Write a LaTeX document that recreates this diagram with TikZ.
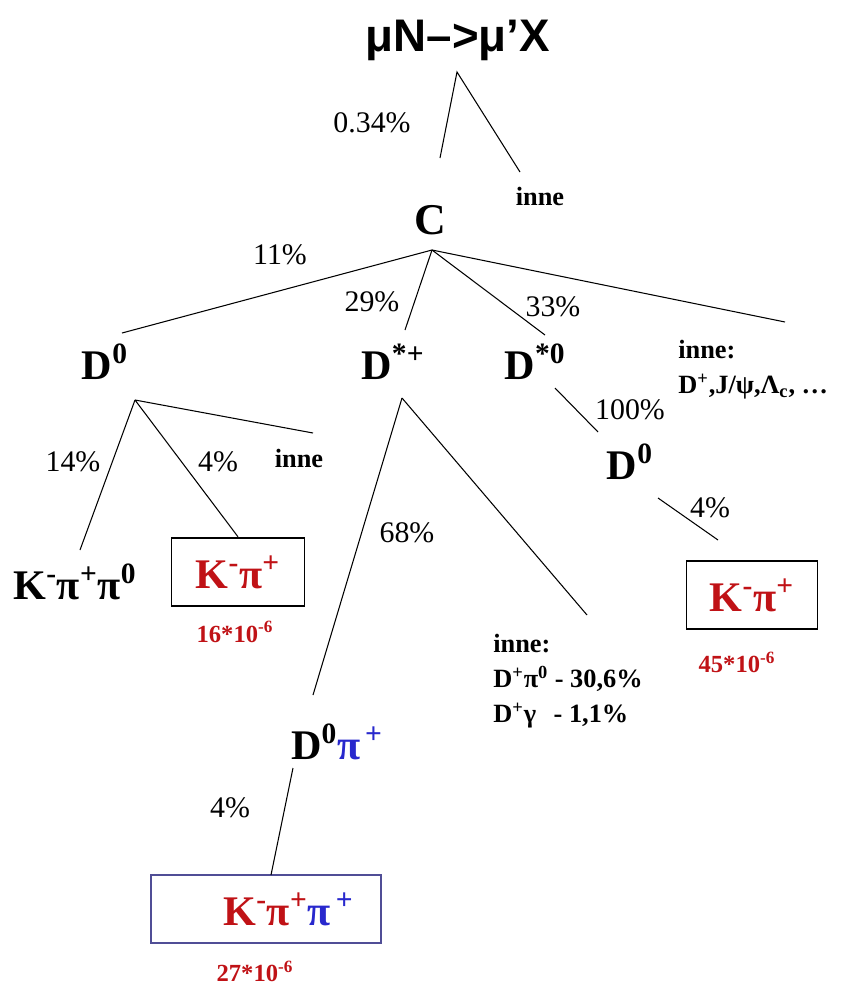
\documentclass[tikz,border=0pt]{standalone}
\usepackage{fontspec}
\setmainfont{Liberation Serif}
\setsansfont{Liberation Sans}
\usepackage{xcolor}
\usepackage{tikz}
\usetikzlibrary{positioning}
\definecolor{kred}{RGB}{192,18,22}
\definecolor{pblue}{RGB}{40,40,205}
\definecolor{frameblue}{RGB}{80,78,150}
\tikzset{
  particle/.style={font=\fontsize{24}{28}\selectfont\bfseries, inner sep=1pt},
  rate/.style={font=\fontsize{17}{20}\selectfont, inner sep=1pt},
  other/.style={font=\fontsize{15}{20}\selectfont\bfseries, inner sep=0pt, align=left},
  yield/.style={font=\fontsize{14}{16}\selectfont\bfseries, text=kred, inner sep=0.5pt},
  finalbox/.style={draw, line width=1.1pt, align=center, minimum height=1.37cm},
  branch/.style={line width=0.6pt}
}
\newcommand{\sps}[1]{\textsuperscript{#1}}

\begin{document}
\begin{tikzpicture}[x=0.02cm, y=-0.02cm]
  \useasboundingbox (0,0) rectangle (847,988);
  \node[font=\fontsize{26}{30}\selectfont\sffamily\bfseries] (muon) at (458,40) {μN–>μ'X};
  \node[particle, font=\fontsize{25}{28}\selectfont\bfseries] (charm) at (430,220) {C};
  \node[other] (inne1) at (540,196) {inne};
  \node[particle] (d0a) at (105,362) {D\sps{0}};
  \node[particle] (dstp) at (393,362) {D\sps{*+}};
  \node[particle] (dst0) at (535,362) {D\sps{*0}};
  \node[other, anchor=north west] (inne2) at (678,340) {inne:\\D\sps{+},J/ψ,Λ\textsubscript{c}, …};
  \node[other] (inne3) at (299,458) {inne};
  \node[particle] (kpipi0) at (75,582) {K\sps{-}π\sps{+}π\sps{0}};
  \node[finalbox, minimum width=2.66cm, text=kred, particle] (kpiA) at (238,572) {K\sps{-}π\sps{+}};
  \node[yield] (yieldA) at (235,632) {16*10\sps{-6}};
  \node[particle] (d0b) at (630,462) {D\sps{0}};
  \node[finalbox, minimum width=2.62cm, text=kred, particle] (kpiB) at (752,595) {K\sps{-}π\sps{+}};
  \node[yield] (yieldB) at (737,662) {45*10\sps{-6}};
  \node[other, anchor=north west] (inne4) at (493,634) {inne:\\D\sps{+}π\sps{0} - 30,6\%\\D\sps{+}γ \ \,- 1,1\%};
  \node[particle] (d0pi) at (337,742) {D\sps{0}{\color{pblue}π\sps{\,+}}};
  \node[finalbox, draw=frameblue, minimum width=4.6cm, particle] (kpipi) at (266,909)
    {\hspace*{0.9cm}{\color{kred}K\sps{-}π\sps{+}}{\color{pblue}π\sps{\,+}}};
  \node[yield] (yieldC) at (255,971) {27*10\sps{-6}};
  % rates
  \node[rate] (r034) at (372,123) {0.34\%};
  \node[rate] (r11) at (280,255) {11\%};
  \node[rate] (r29) at (372,302) {29\%};
  \node[rate] (r33) at (553,307) {33\%};
  \node[rate] (r14) at (73,462) {14\%};
  \node[rate] (r4a) at (218,462) {4\%};
  \node[rate] (r68) at (407,533) {68\%};
  \node[rate] (r100) at (630,410) {100\%};
  \node[rate] (r4b) at (710,508) {4\%};
  \node[rate] (r4c) at (230,808) {4\%};
  % forks and ends
  \coordinate (muonfork) at (457,72);
  \coordinate (charmfork) at (432,250);
  \coordinate (d0afork) at (135,400);
  \coordinate (dstpfork) at (402,398);
  \coordinate (toC) at (440,158);
  \coordinate (toInne1) at (520,172);
  \coordinate (toD0a) at (122,333);
  \coordinate (toDstp) at (405,330);
  \coordinate (toDst0) at (545,335);
  \coordinate (toInne2) at (785,322);
  \coordinate (toKpipi0) at (80,550);
  \coordinate (toInne3) at (313,433);
  \coordinate (toD0pi) at (313,695);
  \coordinate (toInne4) at (587,615);
  \coordinate (dst0out) at (555,388);
  \coordinate (toD0b) at (598,432);
  \coordinate (d0bout) at (658,498);
  \coordinate (toKpiB) at (718,540);
  \coordinate (d0piout) at (293,768);
  \coordinate (toKpipi) at (271,875);
  \draw[branch] (toC) -- (muonfork) -- (toInne1);
  \draw[branch] (charmfork) -- (toD0a);
  \draw[branch] (charmfork) -- (toDstp);
  \draw[branch] (charmfork) -- (toDst0);
  \draw[branch] (charmfork) -- (toInne2);
  \draw[branch] (d0afork) -- (toKpipi0);
  \draw[branch] (d0afork) -- (kpiA.north);
  \draw[branch] (d0afork) -- (toInne3);
  \draw[branch] (dstpfork) -- (toD0pi);
  \draw[branch] (dstpfork) -- (toInne4);
  \draw[branch] (dst0out) -- (toD0b);
  \draw[branch] (d0bout) -- (toKpiB);
  \draw[branch] (d0piout) -- (toKpipi);
\end{tikzpicture}
\end{document}
